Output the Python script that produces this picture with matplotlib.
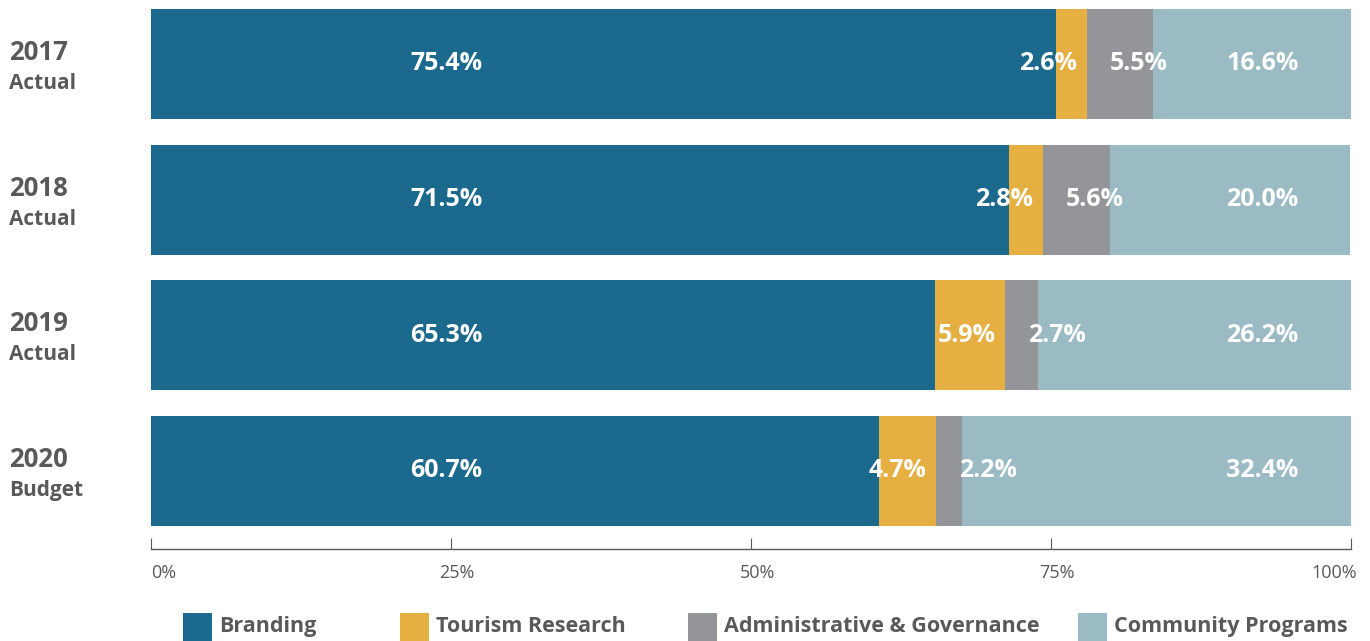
import numpy as np
import matplotlib.pyplot as plt
import matplotlib.transforms as mtransforms
from matplotlib.patches import Rectangle

plt.rcParams["font.family"] = ["Open Sans", "DejaVu Sans"]

years = ["2017", "2018", "2019", "2020"]
kinds = ["Actual", "Actual", "Actual", "Budget"]
categories = ["Branding", "Tourism Research", "Administrative & Governance", "Community Programs"]
branding = np.array([75.4, 71.5, 65.3, 60.7])
tourism = np.array([2.6, 2.8, 5.9, 4.7])
admin = np.array([5.5, 5.6, 2.7, 2.2])
community = np.array([16.6, 20.0, 26.2, 32.4])
ticks = [0, 25, 50, 75, 100]

colors = ["#1b6a8e", "#e6af42", "#939598", "#9abac4"]
gray = "#595959"

W, H = 1370, 641
fig = plt.figure(figsize=(W / 100, H / 100), dpi=100)
ax = fig.add_axes([151 / W, 1 - 549 / H, 1200 / W, 540 / H])

y = np.arange(len(years))
series = [branding, tourism, admin, community]
left = np.zeros(len(years))
for vals, c, name in zip(series, colors, categories):
    w = np.minimum(vals, 100 - left)
    ax.barh(y, w, left=left, height=0.81, color=c, label=name)
    left = left + w

txt = dict(color="white", fontsize=18, fontweight="bold", va="center")
start_a = branding + tourism
for i in range(len(years)):
    ax.text(24.6, y[i], f"{branding[i]:.1f}%", ha="center", **txt)
    ax.text(start_a[i] - 0.8, y[i], f"{tourism[i]:.1f}%", ha="right", **txt)
    ax.text(start_a[i] + 1.9, y[i], f"{admin[i]:.1f}%", ha="left", **txt)
    ax.text(92.6, y[i], f"{community[i]:.1f}%", ha="center", **txt)
    ax.text(-11.85, y[i] - 0.03, years[i], ha="left", va="baseline",
            fontsize=18.5, fontweight="bold", color=gray)
    ax.text(-11.85, y[i] + 0.184, kinds[i], ha="left", va="baseline",
            fontsize=15, fontweight="bold", color=gray)

ax.set_xlim(0, 100)
ax.set_ylim(3.575, -0.405)
ax.set_yticks([])
ax.set_xticks(ticks)
ax.set_xticklabels([f"{t}%" for t in ticks])
ax.tick_params(axis="x", direction="in", length=8, color=gray, labelcolor=gray,
               labelsize=13, pad=11)
labels = ax.get_xticklabels()
shift = mtransforms.ScaledTranslation(6 / 100, 0, fig.dpi_scale_trans)
for lab in labels[1:]:
    lab.set_transform(lab.get_transform() + shift)
labels[0].set_ha("left")
labels[-1].set_ha("right")
for s in ["top", "right", "left"]:
    ax.spines[s].set_visible(False)
ax.spines["bottom"].set_color(gray)
ax.spines["bottom"].set_linewidth(1)

# legend drawn by hand so the uneven spacing of the original can be kept
legend_x = [183, 400, 688, 1078]
for c, n, lx in zip(colors, categories, legend_x):
    fig.patches.append(Rectangle((lx / W, 0), 29 / W, 28 / H, transform=fig.transFigure,
                                 facecolor=c, edgecolor="none"))
    fig.text((lx + 36) / W, 1 - 632 / H, n, ha="left", va="baseline",
             fontsize=15.5, fontweight="bold", color=gray)

fig.savefig("out.png", dpi=100)
